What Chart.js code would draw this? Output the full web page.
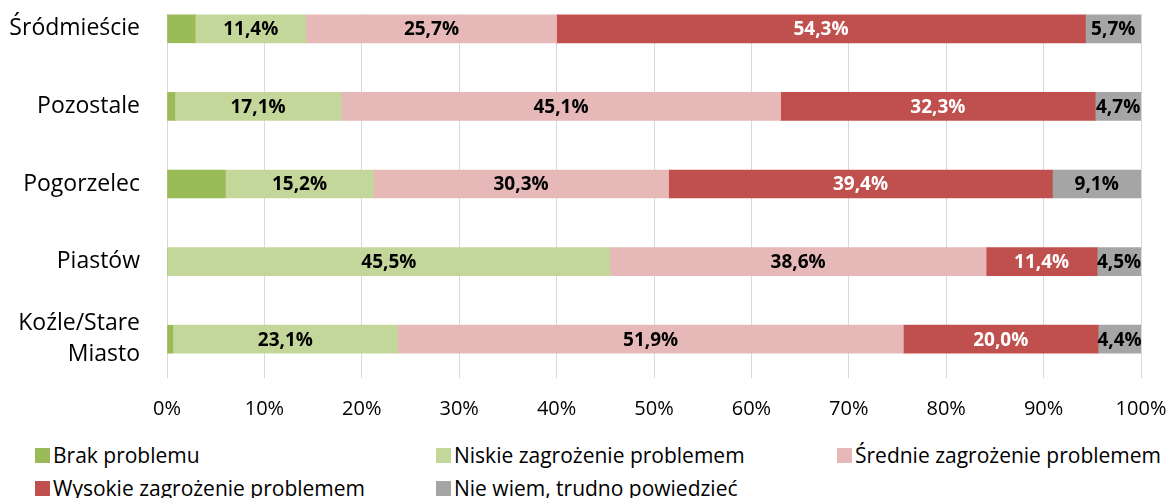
<!DOCTYPE html>
<html>
<head>
<meta charset="utf-8">
<script src="https://cdn.jsdelivr.net/npm/chart.js@4.4.1/dist/chart.umd.min.js"></script>
<style>
    html, body { margin: 0; padding: 0; background: #fff; }
    #page { position: relative; width: 1169px; height: 498px; overflow: hidden; }
    #wrap { position: absolute; left: 0; top: -10px; width: 1169px; height: 438px; }
    .leg { position: absolute; display: flex; align-items: center; font: 21px "Open Sans", sans-serif; color: #000; white-space: nowrap; }
    .leg i { display: inline-block; width: 15px; height: 15px; margin-right: 3px; }
</style>
</head>
<body>
<div id="page">
    <div id="wrap"><canvas id="chart"></canvas></div>
    <div id="legend"></div>
</div>
<script>
const categories = ['Śródmieście', 'Pozostale', 'Pogorzelec', 'Piastów', ['Koźle/Stare', 'Miasto']];
const seriesNames = ['Brak problemu', 'Niskie zagrożenie problemem', 'Średnie zagrożenie problemem', 'Wysokie zagrożenie problemem', 'Nie wiem, trudno powiedzieć'];
const brak = [2.9, 0.8, 6.0, 0, 0.6];
const niskie = [11.4, 17.1, 15.2, 45.5, 23.1];
const srednie = [25.7, 45.1, 30.3, 38.6, 51.9];
const wysokie = [54.3, 32.3, 39.4, 11.4, 20.0];
const nieWiem = [5.7, 4.7, 9.1, 4.5, 4.4];
const xTicks = [0, 10, 20, 30, 40, 50, 60, 70, 80, 90, 100];

const colors = ['#9BBB59', '#C4D79B', '#E6B9B8', '#C0504D', '#A5A5A5'];
const labelColors = [null, '#000', '#000', '#fff', '#000'];
const values = [brak, niskie, srednie, wysokie, nieWiem];

function fmt(v) { return v.toFixed(1).replace('.', ',') + '%'; }

// bar value labels, centred in each segment
const barLabels = {
    id: 'barLabels',
    afterDatasetsDraw(chart) {
        const ctx = chart.ctx;
        ctx.save();
        ctx.font = 'bold 19px "Open Sans", sans-serif';
        ctx.textAlign = 'center';
        ctx.textBaseline = 'middle';
        chart.data.datasets.forEach(function (ds, di) {
            if (!labelColors[di]) return;
            const meta = chart.getDatasetMeta(di);
            ctx.fillStyle = labelColors[di];
            meta.data.forEach(function (el, i) {
                const v = ds.data[i];
                if (!v) return;
                ctx.fillText(fmt(v), (el.x + el.base) / 2, el.y + 1);
            });
        });
        ctx.restore();
    }
};

// gridlines start a bit below the top of the plot area
const gridMask = {
    id: 'gridMask',
    beforeDatasetsDraw(chart) {
        const a = chart.chartArea;
        chart.ctx.save();
        chart.ctx.fillStyle = '#fff';
        chart.ctx.fillRect(a.left - 2, a.top, a.right - a.left + 4, 24);
        chart.ctx.restore();
    }
};

new Chart(document.getElementById('chart'), {
    type: 'bar',
    data: {
        labels: categories,
        datasets: values.map(function (d, i) {
            return { label: seriesNames[i], data: d, backgroundColor: colors[i], borderWidth: 0, barThickness: 28 };
        })
    },
    options: {
        indexAxis: 'y',
        responsive: true,
        maintainAspectRatio: false,
        animation: false,
        layout: { padding: { left: 0, right: 28, top: 0, bottom: 0 } },
        plugins: {
            legend: { display: false },
            tooltip: { enabled: false }
        },
        scales: {
            x: {
                stacked: true,
                min: 0,
                max: 100,
                afterBuildTicks: function (s) { s.ticks = xTicks.map(function (v) { return { value: v }; }); },
                afterFit: function (s) { s.height = 50; s.paddingLeft = 0; s.paddingRight = 0; },
                grid: { color: '#D9D9D9', lineWidth: 1, drawTicks: false },
                border: { display: false },
                ticks: {
                    padding: 19,
                    color: '#000',
                    font: { family: '"Open Sans", sans-serif', size: 20 },
                    callback: function (v) { return v + '%'; }
                }
            },
            y: {
                stacked: true,
                afterFit: function (s) { s.width = 167; s.paddingTop = 0; s.paddingBottom = 0; },
                grid: { display: false, drawTicks: false },
                border: { display: false },
                ticks: {
                    padding: 27,
                    color: '#000',
                    font: { family: '"Open Sans", sans-serif', size: 23, lineHeight: 1.35 }
                }
            }
        }
    },
    plugins: [gridMask, barLabels]
});

const legend = document.getElementById('legend');
seriesNames.forEach(function (name, i) {
    const item = document.createElement('div');
    item.className = 'leg';
    item.style.left = (35 + (i % 3) * 401) + 'px';
    item.style.top = (441 + Math.floor(i / 3) * 33) + 'px';
    item.style.height = '28px';
    item.innerHTML = '<i style="background:' + colors[i] + '"></i>' + name;
    legend.appendChild(item);
});
</script>
</body>
</html>
